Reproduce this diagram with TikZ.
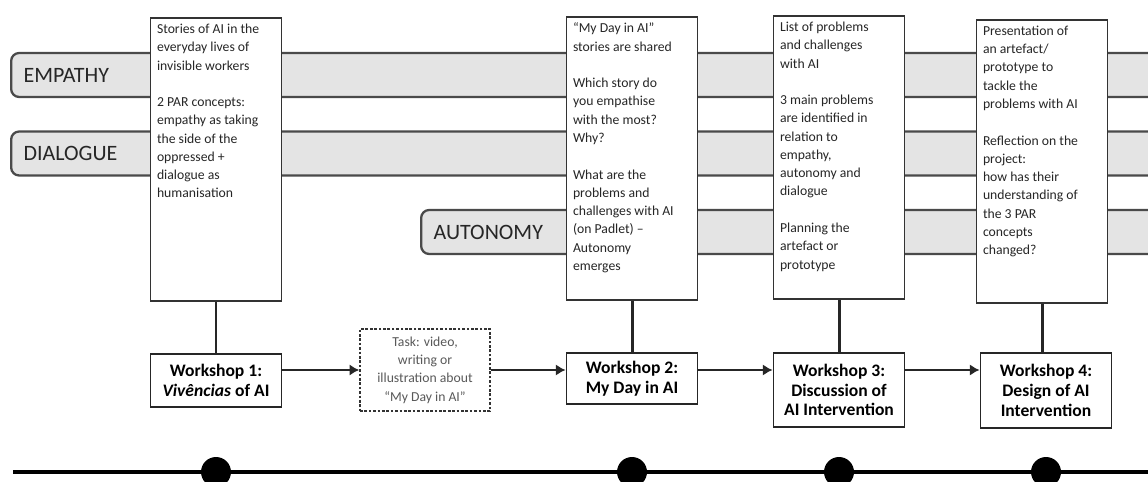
\documentclass[tikz,border=0pt]{standalone}
\usepackage{fontspec}
\setmainfont{Carlito}
\usetikzlibrary{arrows,arrows.meta}
\definecolor{edgegray}{HTML}{4A4A4A}
\definecolor{bandgray}{HTML}{E4E4E4}
\definecolor{inkgray}{HTML}{262626}
\newcommand{\infotext}[1]{\parbox[c][5.42cm][t]{2.36cm}{\raggedright #1}}
\newcommand{\gapline}{\\[10.4pt]}

\begin{document}
\begin{tikzpicture}[x=0.02cm,y=-0.02cm,
	theme_band/.style={draw=edgegray,line width=1.3pt,fill=bandgray,rounded corners=0.16cm,minimum height=0.88cm,text width=23cm,align=left,inner xsep=0.25cm,text=inkgray,font=\fontsize{12.5}{14}\selectfont},
	info_box/.style={draw=black!80,line width=1.1pt,fill=white,inner xsep=0.13cm,inner ysep=0.12cm,text=inkgray,font=\fontsize{7.8}{10.4}\selectfont},
	ws_box/.style={draw=black!85,line width=1.1pt,fill=white,minimum width=2.62cm,align=center,inner sep=0pt,font=\bfseries\fontsize{10}{11.3}\selectfont},
	task_box/.style={draw=black!80,line width=0.9pt,dash pattern=on 1.5pt off 1pt,fill=white,minimum width=2.6cm,minimum height=1.64cm,align=center,inner sep=0pt,text=black!65,font=\fontsize{7.8}{10.4}\selectfont},
	link/.style={draw=black!85,line width=1.7pt},
	flow/.style={link,-{Latex[length=5.5pt,width=6.5pt]}},
	time_dot/.style={circle,fill=black,minimum size=0.6cm,inner sep=0pt}]

		\clip (0,0) rectangle (1148,482);

		% concept bands
		\node[theme_band,anchor=west] (empathy) at (10,75) {EMPATHY};
		\node[theme_band,anchor=west] (dialogue) at (10,153.5) {DIALOGUE};
		\node[theme_band,anchor=west] (autonomy) at (420,232) {AUTONOMY};

		% workshop contents
		\node[info_box,anchor=north] (b1) at (216,17) {\infotext{Stories of AI in the\\ everyday lives of\\ invisible workers\gapline 2 PAR concepts:\\ empathy as taking\\ the side of the\\ oppressed +\\ dialogue as\\ humanisation}};
		\node[info_box,anchor=north] (b2) at (632,16) {\infotext{“My Day in AI”\\ stories are shared\gapline Which story do\\ you empathise\\ with the most?\\ Why?\gapline What are the\\ problems and\\ challenges with AI\\ (on Padlet) –\\ Autonomy\\ emerges}};
		\node[info_box,anchor=north] (b3) at (839,15) {\infotext{List of problems\\ and challenges\\ with AI\gapline 3 main problems\\ are identified in\\ relation to\\ empathy,\\ autonomy and\\ dialogue\gapline Planning the\\ artefact or\\ prototype}};
		\node[info_box,anchor=north] (b4) at (1042,19) {\infotext{Presentation of\\ an artefact/\\ prototype to\\ tackle the\\ problems with AI\gapline Reflection on the\\ project:\\ how has their\\ understanding of\\ the 3 PAR\\ concepts\\ changed?}};

		% workshops
		\node[ws_box,minimum height=1.06cm,anchor=north] (w1) at (216,353) {Workshop 1:\\ \textit{Vivências} of AI};
		\node[task_box] (task) at (425,370) {Task: video,\\ writing or\\ illustration about\\ “My Day in AI”};
		\node[ws_box,minimum height=1.02cm,anchor=north] (w2) at (632,352) {Workshop 2:\\ My Day in AI};
		\node[ws_box,minimum height=1.48cm,anchor=north] (w3) at (839,352) {Workshop 3:\\ Discussion of\\ AI Intervention};
		\node[ws_box,minimum height=1.5cm,anchor=north] (w4) at (1046,352) {Workshop 4:\\ Design of AI\\ Intervention};

		\draw[link] (b1.south) -- (b1.south |- w1.north);
		\draw[link] (b2.south) -- (b2.south |- w2.north);
		\draw[link] (b3.south) -- (b3.south |- w3.north);
		\draw[link] (b4.south) -- (b4.south |- w4.north);

		\draw[flow] (w1.east |- task) -- (task.west);
		\draw[flow] (task.east) -- (task -| w2.west);
		\draw[flow] (w2.east |- task) -- (task -| w3.west);
		\draw[flow] (w3.east |- task) -- (task -| w4.west);

		% timeline
		\coordinate (tl_start) at (13,472);
		\coordinate (tl_end) at (1160,472);
		\draw[line width=2.8pt] (tl_start) -- (tl_end);
		\node[time_dot] (d1) at (w1 |- tl_start) {};
		\node[time_dot] (d2) at (w2 |- tl_start) {};
		\node[time_dot] (d3) at (w3 |- tl_start) {};
		\node[time_dot] (d4) at (w4 |- tl_start) {};
		\end{tikzpicture}
\end{document}
